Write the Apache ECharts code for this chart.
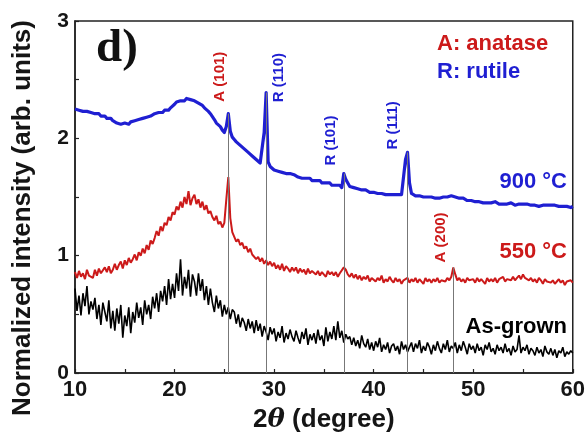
<!DOCTYPE html>
<html>
<head>
<meta charset="utf-8">
<script src="https://cdn.jsdelivr.net/npm/echarts@6/dist/echarts.min.js"></script>
<style>html,body{margin:0;padding:0;background:#fff}#c{width:588px;height:442px}</style>
</head>
<body>
<div id="c"></div>
<script>
// 2θ sampling grid: 10° to 60°, one sample every 0.2°
const angleStart = 10;
const angleStep = 0.2;

const series900 = [
2.25,2.26,2.24,2.25,2.23,2.24,2.23,2.24,2.22,2.23,
2.21,2.20,2.21,2.19,2.18,2.19,2.17,2.16,2.17,2.15,
2.14,2.13,2.14,2.12,2.13,2.13,2.14,2.12,2.14,2.13,
2.15,2.14,2.16,2.15,2.17,2.16,2.18,2.17,2.19,2.19,
2.21,2.20,2.22,2.23,2.22,2.24,2.25,2.24,2.26,2.27,
2.29,2.31,2.30,2.32,2.33,2.32,2.34,2.35,2.33,2.34,
2.32,2.33,2.30,2.29,2.28,2.26,2.25,2.23,2.21,2.20,
2.16,2.13,2.12,2.10,2.07,2.05,2.10,2.21,2.06,2.01,
1.99,1.97,1.96,1.94,1.93,1.91,1.90,1.88,1.87,1.85,
1.84,1.82,1.81,1.79,1.78,2.05,2.39,1.80,1.76,1.75,
1.73,1.74,1.72,1.72,1.71,1.72,1.70,1.71,1.70,1.69,
1.69,1.68,1.67,1.68,1.66,1.67,1.66,1.65,1.66,1.64,
1.65,1.64,1.63,1.64,1.62,1.63,1.62,1.61,1.62,1.60,
1.61,1.60,1.59,1.60,1.58,1.70,1.65,1.62,1.59,1.58,
1.58,1.57,1.57,1.56,1.56,1.55,1.56,1.55,1.54,1.55,
1.54,1.54,1.53,1.54,1.53,1.53,1.52,1.53,1.52,1.52,
1.52,1.53,1.52,1.51,1.52,1.53,1.82,1.88,1.62,1.53,
1.52,1.51,1.52,1.51,1.51,1.50,1.51,1.50,1.51,1.50,
1.50,1.49,1.50,1.49,1.49,1.50,1.49,1.50,1.51,1.51,
1.51,1.50,1.50,1.49,1.48,1.49,1.48,1.47,1.48,1.47,
1.47,1.46,1.47,1.46,1.46,1.45,1.46,1.45,1.46,1.45,
1.45,1.46,1.45,1.44,1.45,1.44,1.45,1.44,1.44,1.45,
1.44,1.43,1.44,1.44,1.43,1.44,1.43,1.44,1.43,1.43,
1.44,1.43,1.43,1.42,1.43,1.43,1.42,1.43,1.42,1.43,
1.42,1.43,1.42,1.42,1.43,1.42,1.41,1.42,1.42,1.41,
1.42
];

const series550 = [
0.86,0.81,0.87,0.82,0.85,0.80,0.88,0.83,0.84,0.81,
0.88,0.83,0.89,0.85,0.84,0.90,0.86,0.91,0.85,0.88,
0.93,0.88,0.92,0.95,0.89,0.96,0.92,0.98,0.94,0.97,
1.01,0.96,1.03,1.00,1.06,1.02,1.09,1.05,1.13,1.10,
1.15,1.21,1.17,1.25,1.21,1.28,1.26,1.33,1.30,1.37,
1.35,1.42,1.39,1.46,1.41,1.50,1.44,1.55,1.43,1.49,
1.52,1.44,1.48,1.41,1.46,1.39,1.43,1.36,1.38,1.33,
1.30,1.34,1.27,1.29,1.24,1.28,1.48,1.67,1.32,1.20,
1.16,1.12,1.14,1.09,1.11,1.06,1.08,1.03,1.06,1.01,
1.02,0.97,0.99,0.95,0.98,0.93,0.96,0.92,0.95,0.91,
0.94,0.89,0.92,0.88,0.93,0.87,0.91,0.89,0.86,0.90,
0.87,0.90,0.85,0.89,0.86,0.88,0.84,0.89,0.85,0.87,
0.88,0.84,0.87,0.83,0.86,0.85,0.82,0.87,0.84,0.86,
0.83,0.86,0.82,0.85,0.84,0.90,0.88,0.84,0.82,0.85,
0.81,0.84,0.80,0.83,0.79,0.82,0.80,0.83,0.78,0.81,
0.82,0.78,0.81,0.79,0.83,0.77,0.80,0.78,0.82,0.79,
0.77,0.81,0.78,0.80,0.76,0.79,0.78,0.81,0.77,0.80,
0.78,0.81,0.77,0.80,0.79,0.76,0.81,0.78,0.80,0.77,
0.80,0.78,0.81,0.77,0.79,0.80,0.78,0.81,0.79,0.82,
0.90,0.84,0.79,0.81,0.78,0.80,0.77,0.81,0.79,0.78,
0.80,0.77,0.81,0.78,0.80,0.79,0.76,0.81,0.78,0.80,
0.78,0.81,0.77,0.80,0.79,0.82,0.78,0.80,0.81,0.79,
0.82,0.79,0.81,0.83,0.80,0.84,0.81,0.82,0.79,0.81,
0.78,0.80,0.77,0.81,0.79,0.76,0.80,0.78,0.79,0.77,
0.79,0.76,0.78,0.80,0.77,0.79,0.75,0.78,0.77,0.79,
0.77
];

const seriesAsGrown = [
0.72,0.53,0.66,0.49,0.68,0.57,0.74,0.50,0.61,0.54,
0.64,0.46,0.58,0.41,0.60,0.52,0.44,0.62,0.38,0.53,
0.36,0.55,0.42,0.58,0.30,0.49,0.40,0.56,0.34,0.52,
0.43,0.60,0.47,0.56,0.41,0.62,0.50,0.58,0.46,0.65,
0.55,0.68,0.52,0.70,0.61,0.74,0.58,0.80,0.63,0.76,
0.64,0.85,0.70,0.97,0.66,0.82,0.72,0.88,0.65,0.84,
0.78,0.66,0.85,0.70,0.80,0.62,0.74,0.58,0.72,0.60,
0.52,0.66,0.55,0.62,0.48,0.58,0.50,0.56,0.46,0.54,
0.52,0.42,0.50,0.39,0.47,0.43,0.36,0.46,0.38,0.44,
0.34,0.45,0.36,0.42,0.31,0.40,0.35,0.28,0.39,0.33,
0.38,0.27,0.35,0.30,0.40,0.26,0.34,0.29,0.37,0.31,
0.27,0.36,0.30,0.25,0.35,0.29,0.38,0.24,0.33,0.28,
0.34,0.25,0.37,0.28,0.32,0.23,0.39,0.27,0.35,0.29,
0.40,0.28,0.44,0.30,0.36,0.26,0.33,0.29,0.31,0.24,
0.30,0.23,0.28,0.21,0.32,0.25,0.22,0.29,0.20,0.26,
0.19,0.27,0.22,0.30,0.18,0.24,0.20,0.26,0.17,0.23,
0.25,0.19,0.23,0.16,0.27,0.20,0.24,0.18,0.22,0.26,
0.18,0.25,0.21,0.28,0.17,0.23,0.19,0.26,0.22,0.16,
0.24,0.19,0.27,0.21,0.17,0.25,0.20,0.28,0.18,0.23,
0.21,0.26,0.17,0.24,0.19,0.27,0.22,0.16,0.25,0.20,
0.23,0.17,0.25,0.19,0.22,0.15,0.24,0.20,0.26,0.18,
0.21,0.16,0.24,0.19,0.22,0.17,0.25,0.18,0.21,0.15,
0.23,0.18,0.20,0.32,0.17,0.22,0.19,0.24,0.16,0.21,
0.19,0.15,0.22,0.17,0.20,0.14,0.23,0.18,0.16,0.21,
0.15,0.20,0.13,0.19,0.17,0.22,0.14,0.18,0.16,0.19,
0.17
];

// Indexed reflections
const peakLabels = ['A (101)', 'R (110)', 'R (101)', 'R (111)', 'A (200)'];
const peakAngles = [25.4, 29.2, 37.0, 43.4, 48.0];
const peakTops   = [2.21, 2.39, 1.70, 1.88, 0.90];
const peakPhase  = ['A', 'R', 'R', 'R', 'A'];

const xTicks = [10, 20, 30, 40, 50, 60];
const yTicks = [0, 1, 2, 3];

const sampleNames = ['900 °C', '550 °C', 'As-grown'];
const phaseLegend = ['A: anatase', 'R: rutile'];

// ---- styles ----
const RED = '#cc1a1a';
const BLUE = '#1f1fd2';
const FONT = '"Liberation Sans", Arial, sans-serif';
// label offsets (px) relative to peak tops
const labelOffsets = [[-8, -37], [13, -15], [-13, -33], [-15, -27], [-12, -30]];

function toPairs(vals) {
  return vals.map((v, i) => [+(angleStart + i * angleStep).toFixed(1), v]);
}

const chart = echarts.init(document.getElementById('c'), null, {renderer: 'canvas'});

const option = {
  animation: false,
  backgroundColor: '#fff',
  grid: {left: 75, right: 14, top: 21, bottom: 69, show: true, borderColor: '#222', borderWidth: 1.5, backgroundColor: 'transparent'},
  xAxis: {
    type: 'value', min: xTicks[0], max: xTicks[xTicks.length - 1], interval: 10,
    axisLine: {show: true, lineStyle: {color: '#222', width: 1.5}},
    axisTick: {show: true, inside: true, length: 4, lineStyle: {color: '#222', width: 1.2}},
    minorTick: {show: true, splitNumber: 2, length: 4, lineStyle: {color: '#222', width: 1.2}},
    splitLine: {show: false},
    axisLabel: {fontSize: 22, fontWeight: 'bold', color: '#151515', fontFamily: FONT, margin: 6},
    name: '{n|2}{t|θ}{n| (degree)}',
    nameLocation: 'middle', nameGap: 34,
    nameTextStyle: {
      rich: {
        n: {fontSize: 26, fontWeight: 'bold', color: '#151515', fontFamily: FONT},
        t: {fontSize: 26, fontWeight: 'bold', fontStyle: 'italic', color: '#151515', fontFamily: '"DejaVu Serif", serif'}
      }
    }
  },
  yAxis: {
    type: 'value', min: yTicks[0], max: yTicks[yTicks.length - 1], interval: 1,
    axisLine: {show: true, lineStyle: {color: '#222', width: 1.5}},
    axisTick: {show: true, inside: true, length: 4, lineStyle: {color: '#222', width: 1.2}},
    minorTick: {show: true, splitNumber: 2, length: 4, lineStyle: {color: '#222', width: 1.2}},
    splitLine: {show: false},
    axisLabel: {fontSize: 21, fontWeight: 'bold', color: '#151515', fontFamily: FONT, margin: 6}
  },
  series: [
    {
      name: 'reflections', type: 'line', data: [], z: 1, silent: true,
      markLine: {
        silent: true, symbol: 'none', label: {show: false},
        lineStyle: {color: '#777', width: 1, type: 'solid'},
        data: peakAngles.map((a, i) => [{coord: [a, 0]}, {coord: [a, peakTops[i]]}])
      }
    },
    {name: sampleNames[2], type: 'line', data: toPairs(seriesAsGrown), symbol: 'none', z: 2,
     lineStyle: {color: '#000', width: 1.6}},
    {name: sampleNames[1], type: 'line', data: toPairs(series550), symbol: 'none', z: 3,
     lineStyle: {color: RED, width: 2}},
    {name: sampleNames[0], type: 'line', data: toPairs(series900), symbol: 'none', z: 4,
     lineStyle: {color: BLUE, width: 3.2, join: 'round'}}
  ]
};
chart.setOption(option);

const graphics = [];
// peak labels
peakAngles.forEach((a, i) => {
  const p = chart.convertToPixel({gridIndex: 0}, [a, peakTops[i]]);
  graphics.push({
    type: 'text', x: p[0] + labelOffsets[i][0], y: p[1] + labelOffsets[i][1], rotation: Math.PI / 2,
    style: {text: peakLabels[i], fill: peakPhase[i] === 'A' ? RED : BLUE, font: 'bold 15px ' + FONT,
            textAlign: 'center', textVerticalAlign: 'middle'}
  });
});
// y title
graphics.push({type: 'text', x: 23, y: 218, rotation: Math.PI / 2,
  style: {text: 'Normalized intensity (arb. units)', fill: '#151515', font: 'bold 26px ' + FONT,
          textAlign: 'center', textVerticalAlign: 'middle'}});
// panel letter
graphics.push({type: 'text', x: 96, y: 49,
  style: {text: 'd)', fill: '#111', font: 'bold 47px "Liberation Serif", "Times New Roman", serif',
          textAlign: 'left', textVerticalAlign: 'middle'}});
// phase legend
graphics.push({type: 'text', x: 437, y: 44,
  style: {text: phaseLegend[0], fill: RED, font: 'bold 22px ' + FONT, textAlign: 'left', textVerticalAlign: 'middle'}});
graphics.push({type: 'text', x: 437, y: 72,
  style: {text: phaseLegend[1], fill: BLUE, font: 'bold 22px ' + FONT, textAlign: 'left', textVerticalAlign: 'middle'}});
// sample labels
graphics.push({type: 'text', x: 567, y: 182,
  style: {text: sampleNames[0], fill: BLUE, font: 'bold 22px ' + FONT, textAlign: 'right', textVerticalAlign: 'middle'}});
graphics.push({type: 'text', x: 567, y: 252,
  style: {text: sampleNames[1], fill: RED, font: 'bold 22px ' + FONT, textAlign: 'right', textVerticalAlign: 'middle'}});
graphics.push({type: 'text', x: 567, y: 327,
  style: {text: sampleNames[2], fill: '#000', font: 'bold 22px ' + FONT, textAlign: 'right', textVerticalAlign: 'middle'}});

chart.setOption({graphic: graphics});
</script>
</body>
</html>
